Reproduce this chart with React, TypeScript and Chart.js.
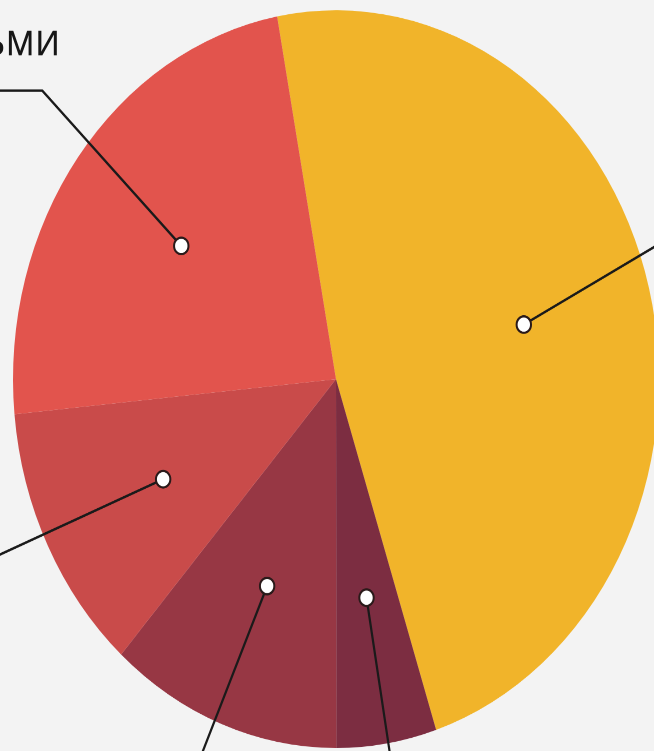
import React, { useEffect, useRef } from "react";
import { Chart, registerables } from "chart.js";

Chart.register(...registerables);

// Slice data (share, %), clockwise from the start angle
const sliceNames = ["A", "B", "C", "D", "Семьи с детьми"];
const sliceValues = [47.9, 5, 11.6, 11.9, 23.6];
const sliceColors = ["#F1B42A", "#7C2D41", "#973744", "#C94B4A", "#E2544D"];
const startRotation = -10.5; // degrees from 12 o'clock

// Callout leader lines (offsets from the dot, in chart pixels)
const calloutEnds = [
  [192, -100],
  [30, 175],
  [-80, 180],
  [-240, 97],
  [-139, -136],
];
const calloutText = ["", "", "", "", "ьми"];

const STRETCH = 1.142;

const calloutPlugin = {
  id: "callouts",
  afterDatasetsDraw(chart: any) {
    const ctx = chart.ctx;
    const meta = chart.getDatasetMeta(0);
    meta.data.forEach((arc: any, i: number) => {
      const p = arc.getProps(["x", "y", "startAngle", "endAngle", "outerRadius"], true);
      const mid = (p.startAngle + p.endAngle) / 2;
      const dx = p.x + Math.cos(mid) * p.outerRadius * 0.6;
      const dy = p.y + Math.sin(mid) * p.outerRadius * 0.6;
      const [ex, ey] = calloutEnds[i];
      ctx.save();
      ctx.strokeStyle = "#1a1a1a";
      ctx.lineWidth = 2.2;
      ctx.beginPath();
      ctx.moveTo(dx, dy);
      ctx.lineTo(dx + ex, dy + ey);
      if (i === 4) {
        ctx.lineTo(dx + ex - 200, dy + ey);
      }
      ctx.stroke();
      // dot
      ctx.beginPath();
      ctx.arc(dx, dy, 7.2, 0, Math.PI * 2);
      ctx.fillStyle = "#ffffff";
      ctx.fill();
      ctx.lineWidth = 2;
      ctx.strokeStyle = "#2a1a1a";
      ctx.stroke();
      if (calloutText[i]) {
        ctx.fillStyle = "#161616";
        ctx.font = "500 40px 'Open Sans'";
        ctx.textAlign = "right";
        ctx.textBaseline = "alphabetic";
        ctx.fillText(calloutText[i], dx - 121, dy - 167);
      }
      ctx.restore();
    });
  },
};

export default function App() {
  const ref = useRef<HTMLCanvasElement | null>(null);
  useEffect(() => {
    document.body.style.margin = "0";
    document.body.style.background = "#F3F3F3";
    const chart = new Chart(ref.current as HTMLCanvasElement, {
      type: "pie",
      data: {
        labels: sliceNames,
        datasets: [
          {
            data: sliceValues,
            backgroundColor: sliceColors,
            borderWidth: 0,
          },
        ],
      },
      options: {
        animation: false,
        responsive: false,
        devicePixelRatio: 2,
        rotation: startRotation,
        layout: { padding: { left: 13, right: 13, top: 9, bottom: 9 } },
        plugins: {
          legend: { display: false },
          tooltip: { enabled: false },
        },
      },
      plugins: [calloutPlugin],
    });
    return () => chart.destroy();
  }, []);
  return (
    <div style={{ width: 654, height: 751, overflow: "hidden", position: "relative", background: "#F3F3F3" }}>
      <div style={{ width: 672, height: 664, transform: `scaleY(${STRETCH})`, transformOrigin: "0 0" }}>
        <canvas ref={ref} width={672} height={664} style={{ width: 672, height: 664, display: "block" }} />
      </div>
    </div>
  );
}
